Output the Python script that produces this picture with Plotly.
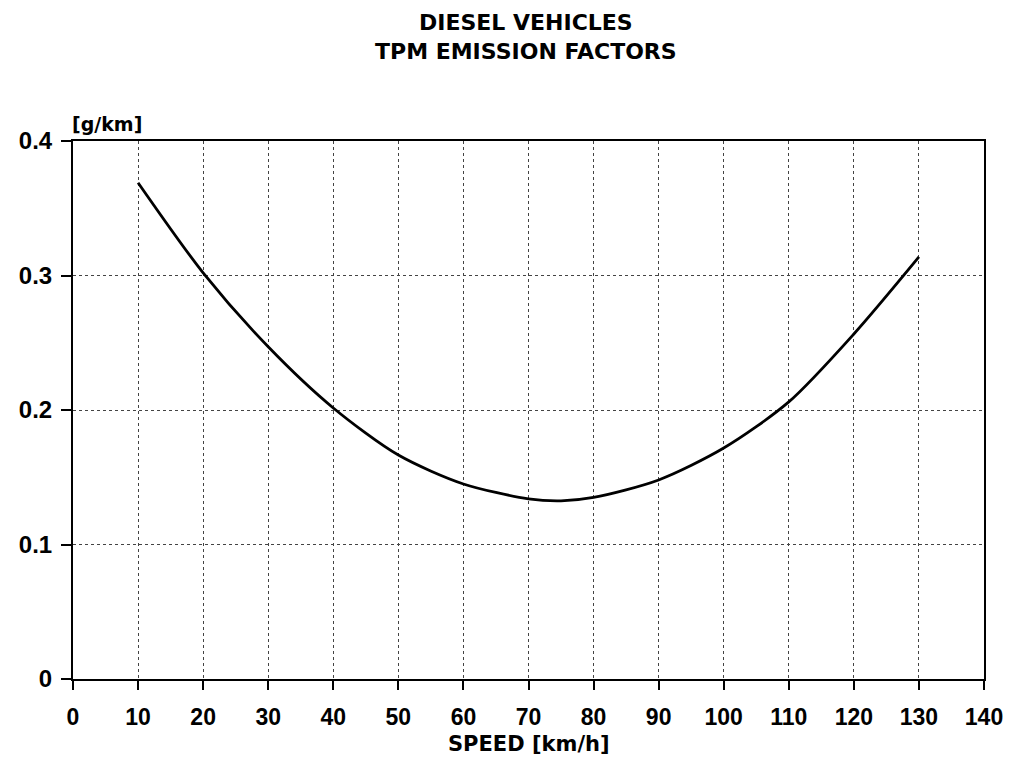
import plotly.graph_objects as go

speed = [10, 20, 30, 40, 50, 60, 70, 75, 80, 90, 100, 110, 120, 130]
tpm = [0.369, 0.302, 0.247, 0.2015, 0.1665, 0.145, 0.134, 0.1325, 0.135, 0.148, 0.1717, 0.206, 0.2565, 0.3138]

x_ticks = list(range(0, 141, 10))
y_ticks = [0, 0.1, 0.2, 0.3, 0.4]
y_labels = ["0", "0.1", "0.2", "0.3", "0.4"]

tick_font = "Liberation Sans, Arial, sans-serif"
label_font = "DejaVu Sans, sans-serif"

fig = go.Figure()
fig.add_trace(go.Scatter(x=speed, y=tpm, mode="lines",
                         line=dict(color="black", width=2.8, shape="spline", smoothing=0.8),
                         showlegend=False))

fig.update_layout(
    width=997, height=754,
    margin=dict(l=65, r=21, t=133, b=83, autoexpand=False),
    paper_bgcolor="white", plot_bgcolor="white",
    font=dict(family=tick_font, color="black"),
    annotations=[
        dict(text="<b>DIESEL VEHICLES<br>TPM EMISSION FACTORS</b>", xref="paper", yref="paper",
             x=0.497, xanchor="center", y=1.193, yanchor="middle",
             showarrow=False, font=dict(size=22, family=label_font)),
        dict(text="<b>[g/km]</b>", xref="paper", yref="paper",
             x=-0.003, xanchor="left", y=1.008, yanchor="bottom",
             showarrow=False, font=dict(size=19, family=label_font)),
        dict(text="<b>SPEED [km/h]</b>", xref="paper", yref="paper",
             x=0.5, xanchor="center", y=-0.121, yanchor="middle",
             showarrow=False, font=dict(size=21, family=label_font)),
    ],
)
fig.update_xaxes(range=[0, 140], tickvals=x_ticks, ticktext=[f"<b>{v}</b>" for v in x_ticks],
                 automargin=False, ticklabelstandoff=7,
                 showgrid=True, gridcolor="#444", griddash="dot", gridwidth=1,
                 showline=True, linecolor="black", linewidth=2, mirror=True,
                 ticks="outside", ticklen=9, tickwidth=2, tickcolor="black",
                 tickfont=dict(size=23, family=tick_font),
                 zeroline=False)
fig.update_yaxes(range=[0, 0.4], tickvals=y_ticks, ticktext=[f"<b>{t}</b>" for t in y_labels],
                 automargin=False, ticklabelstandoff=4,
                 showgrid=True, gridcolor="#444", griddash="dot", gridwidth=1,
                 showline=True, linecolor="black", linewidth=2, mirror=True,
                 ticks="outside", ticklen=10, tickwidth=2, tickcolor="black",
                 tickfont=dict(size=24, family=tick_font),
                 zeroline=False)

fig.write_html("out.html")
